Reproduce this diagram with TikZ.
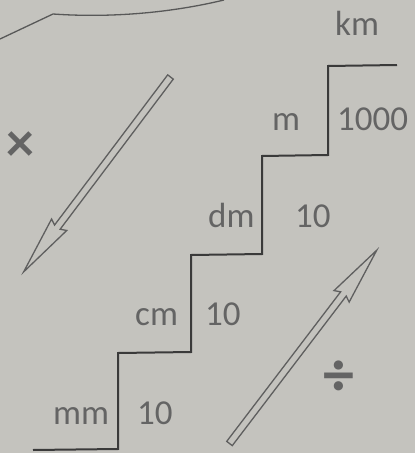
\documentclass[tikz,border=0pt]{standalone}
\usepackage{fontspec}
\setmainfont{Carlito}
\definecolor{bggray}{RGB}{196,195,190}
\definecolor{inkdark}{RGB}{58,58,58}
\definecolor{txtgray}{RGB}{100,100,100}
\definecolor{arrowgray}{RGB}{95,95,95}
\begin{document}
\begin{tikzpicture}[x=1pt,y=1pt,
  lbl/.style={font=\fontsize{35}{40}\selectfont, text=txtgray, inner sep=0pt, anchor=base west},
  stair/.style={draw=inkdark, line width=2pt, line join=miter},
  hollowarrow/.style={draw=arrowgray, line width=1.3pt, line join=miter},
  curveline/.style={draw=inkdark!85, line width=1.3pt}]
\fill[bggray] (0,0) rectangle (415,-453);
\useasboundingbox (0,0) rectangle (415,-453);

% top curve
\draw[curveline] (0,-39) -- (53,-14) .. controls (110,-18) and (170,-13) .. (224,0);

% staircase
\draw[stair] (33,-450) -- (118,-449) -- (118,-353) -- (191,-352) -- (191,-255)
  -- (262,-254) -- (262,-156) -- (328,-155) -- (328,-66) -- (397,-65);

% labels
\node[lbl] (km) at (335,-35) {km};
\node[lbl] (m) at (272,-130) {m};
\node[lbl] (k1000) at (337,-130) {1000};
\node[lbl] (dm) at (208,-227) {dm};
\node[lbl] (d10) at (295,-227) {10};
\node[lbl] (cm) at (135,-325) {cm};
\node[lbl] (c10) at (205,-325) {10};
\node[lbl] (mm) at (53,-424) {mm};
\node[lbl] (m10) at (137,-424) {10};

% operation symbols
\node[font=\fontsize{56}{56}\selectfont\bfseries, text=txtgray, inner sep=0pt] (times) at (20,-147) {×};
\node[font=\fontsize{62}{62}\selectfont\bfseries, text=txtgray, inner sep=0pt] (divide) at (339,-378) {÷};

% hollow arrows
\draw[hollowarrow, shift={(170.5,-77)}, rotate=233]
  (0,3.5) -- (188,3.5) -- (185,9.5) -- (244,0) -- (185,-9.5) -- (188,-3.5) -- (0,-3.5) -- cycle;
\draw[hollowarrow, shift={(229.5,-443.5)}, rotate=52.7]
  (0,3.5) -- (188,3.5) -- (185,9.5) -- (243,0) -- (185,-9.5) -- (188,-3.5) -- (0,-3.5) -- cycle;
\end{tikzpicture}
\end{document}
